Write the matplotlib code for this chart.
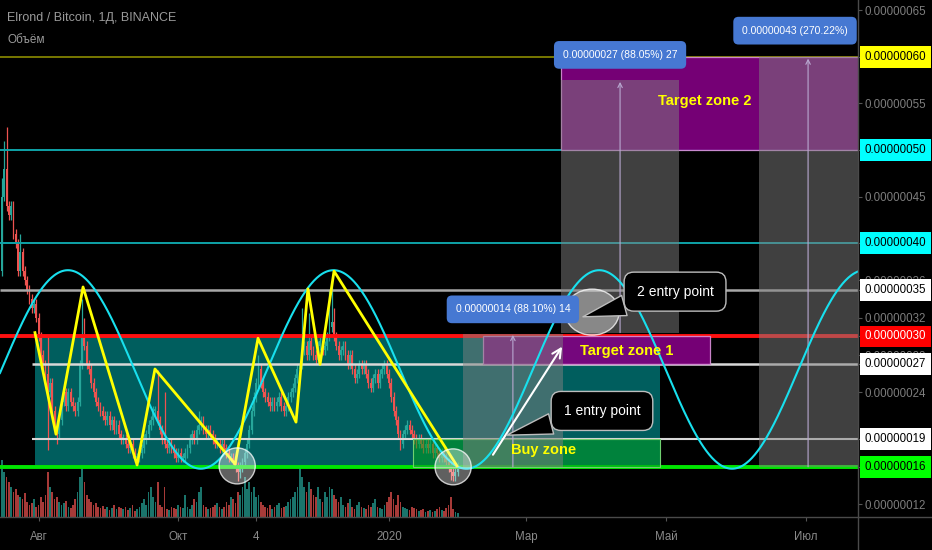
import numpy as np
import matplotlib
matplotlib.use('Agg')
import matplotlib.pyplot as plt
from matplotlib.patches import Rectangle, Ellipse
from matplotlib.ticker import FixedLocator, FuncFormatter
import matplotlib.transforms as mtrans

plt.rcParams['font.family'] = ['Liberation Sans', 'DejaVu Sans']

# days are counted from 1 Aug 2019, first candle = 16 Jul 2019
first_day = -16
first_open = 37
# daily closes, in satoshi (1e-8 BTC)
closes = [45, 48, 44, 43, 44, 41, 40, 37, 39, 37, 36, 35, 34, 33, 33.5, 32, 30,
          28, 27, 26, 24, 25, 22, 20, 19.5, 21, 23, 24, 22.5, 24, 23, 22.5, 22, 23, 27, 30,
          29, 27, 26.5, 25, 24, 23, 22.5, 22, 21.5, 21, 21.5, 20.5, 21, 20, 20.5, 19.5, 19,
          19, 18.5, 18, 18.5, 17.5, 17, 17,
          17.5, 18, 19, 19.5, 20.5, 21, 22, 22, 21, 20,
          19, 18.5, 18, 18.5, 18, 17.5, 17, 17.5, 17, 17,
          17.5, 18, 19, 19.5, 19, 20, 20.5, 21, 20, 19.5,
          20, 19.5, 19, 18.5, 18.5, 18, 18.5, 18, 17.5, 17,
          17, 16.5, 16, 15.5, 16, 16.5, 17.5, 18.5, 20, 22,
          23.5, 25, 26.5, 25, 24, 23.5, 23, 22.5, 23, 22.5,
          23, 23.5, 22.5, 22, 22.5, 23.5, 24, 24.5, 25.5, 26.5,
          27, 28.5, 29, 28, 29.5, 28.5, 28, 27.5, 29, 29.5, 28.5, 29, 30, 31, 31.5, 30, 29, 28,
          28.5, 29, 28, 27, 28, 26.5, 25.5, 26, 27, 26.5, 27, 26, 25, 24.5, 25.5, 26, 25, 26, 26.5, 27,
          26, 25, 23.5, 22, 21, 19.5, 18.5, 19.5, 20, 20.5, 20, 19.5, 19,
          18.5, 19, 18.5, 18, 18.5, 18, 18.5, 17.5, 18, 17.5, 17, 17.5, 17, 16.5, 16, 15.5, 15, 15.5, 16]
wick_hi = {0: 47, 1: 51, 2: 52.5, 8: 41, 20: 30, 35: 34, 36: 32, 68: 26.4, 71: 24,
           86: 22, 112: 28, 131: 33, 134: 32.5, 143: 35, 144: 36, 145: 33}
wick_lo = {20: 17.8, 24: 18.5, 103: 14.5, 104: 14.8, 174: 17.8, 196: 14.6, 197: 14.5}
volumes = [57, 45, 40, 35, 30, 25, 28, 22, 20, 18, 24, 15, 12, 14, 18, 10, 12,
           20, 15, 22, 45, 30, 25, 18, 20, 15, 12, 14, 16, 10, 9, 12, 18, 25, 40, 50, 35,
           22, 18, 15, 12, 14, 10, 9, 11, 8, 10, 7, 9, 12, 8, 10, 9,
           8, 10, 7, 9, 12, 6, 8, 10, 14, 18, 12, 25, 30, 20, 15, 35, 12, 10, 30, 8,
           7, 10, 9, 8, 12, 10, 9, 22, 10, 8, 12, 18, 15, 25, 30, 12, 10, 8, 9, 10,
           12, 14, 10, 8, 10, 15, 12,
           20, 18, 14, 25, 22, 30, 40, 28, 35, 25, 30, 20, 22, 15, 12, 10, 9, 12, 8, 10,
           12, 14, 9, 10, 11, 15, 18, 20, 25, 30,
           55, 40, 30, 25, 35, 28, 22, 20, 30, 18, 15, 25, 20, 30, 28, 22, 18, 15, 20, 12,
           10, 14, 18, 10, 8, 12, 15, 10, 9, 8, 12, 10, 14, 18, 10, 9, 8, 12,
           15, 20, 25, 18, 12, 22, 15, 10, 9, 8, 7, 10, 9, 8, 6, 7, 8, 5, 6, 7,
           5, 6, 8, 10, 7, 6, 9, 12, 20, 8, 5, 4]

tick_days = [0, 61, 95, 153, 213, 274, 335]
tick_labels = ['Авг', 'Окт', '4', '2020', 'Мар', 'Май', 'Июл']
price_ticks = [12, 24, 28, 32, 36, 45, 55, 65]

levels = [60, 50, 40, 35, 30, 27, 19, 16]
level_line = ['#8c8c00', '#0fa3a8', '#0fa3a8', '#a8a8a8', '#ff1010', '#d8d8d8', '#d8d8d8', '#00e600']
level_box = ['#ffff00', '#00ffff', '#00ffff', '#ffffff', '#ff0000', '#ffffff', '#ffffff', '#00ff00']
level_txt = ['black', 'black', 'black', 'black', 'white', 'black', 'black', 'black']
level_lw = [1.2, 1.4, 1.4, 1.8, 2.8, 1.8, 1.5, 2.8]
level_start = [-17, -17, -17, -17, -17, -3, -3, -17]

zig_days = [-1.6, 7.6, 19.4, 43.0, 50.8, 85.8, 95.8, 112.4, 117.6, 122.9, 129.0, 182.7]
zig_prices = [30.4, 19.5, 35.3, 16.2, 26.5, 16.3, 29.8, 20.8, 35.1, 27.0, 37.0, 16.1]

# sine tool
sine_peak_day = 12.8
sine_half = 58.0
sine_top = 37.1
sine_bottom = 15.8

# circles (cx, cy, rx, ry)
circles = [(86.7, 16.1, 7.9, 1.93), (181.0, 16.0, 7.9, 1.93), (241.7, 32.6, 11.8, 2.47)]

XMIN, XMAX = -16.86, 357.8
YMIN, YMAX = 10.62, 66.09

fig = plt.figure(figsize=(9.32, 5.5), dpi=100, facecolor='black')
pos = [0, 33 / 550, 858 / 932, 517 / 550]

n = min(len(closes), len(volumes))
days = np.arange(first_day, first_day + n)
opens = [first_open] + closes[:n - 1]
cl = closes[:n]
up = [c >= o for o, c in zip(opens, cl)]
cols = ['#26a69a' if u else '#ef5350' for u in up]

# volume pane
axv = fig.add_axes(pos)
axv.set_axis_off()
axv.set_xlim(XMIN, XMAX)
axv.set_ylim(0, 517)
axv.bar(days, volumes[:n], width=0.75, color=cols, alpha=0.7)

ax = fig.add_axes(pos)
ax.set_facecolor('none')
ax.set_xlim(XMIN, XMAX)
ax.set_ylim(YMIN, YMAX)
for s in ax.spines.values():
    s.set_visible(False)

# long position zone
ax.add_patch(Rectangle((-1.6, 16), 271.4 + 1.6, 14, fc='#005e5e', ec='none', zorder=1))

# candles
highs = [wick_hi.get(i, max(o, c) + 0.5) for i, (o, c) in enumerate(zip(opens, cl))]
lows = [wick_lo.get(i, min(o, c) - 0.5) for i, (o, c) in enumerate(zip(opens, cl))]
ax.vlines(days, lows, highs, colors=cols, lw=0.9, zorder=2)
bot = [min(o, c) for o, c in zip(opens, cl)]
hgt = [max(abs(c - o), 0.2) for o, c in zip(opens, cl)]
ax.bar(days, hgt, bottom=bot, width=0.8, color=cols, zorder=2)

# horizontal levels
for v, c, lw, x0 in zip(levels, level_line, level_lw, level_start):
    ax.plot([x0, XMAX], [v, v], color=c, lw=lw, zorder=3, solid_capstyle='butt')

# zones
ax.add_patch(Rectangle((163.5, 16), 271.4 - 163.5, 3, fc='#00a020', alpha=0.55, ec='none', zorder=4))
ax.add_patch(Rectangle((163.5, 16), 271.4 - 163.5, 3, fc='none', ec='#70d070', lw=0.8, zorder=4))
ax.add_patch(Rectangle((194.1, 27), 293.2 - 194.1, 3, fc='#800080', alpha=0.92, ec='#d58fd5', lw=0.9, zorder=4))
ax.add_patch(Rectangle((228.1, 50), 360 - 228.1, 10, fc='#800080', alpha=0.92, ec='#d58fd5', lw=0.9, zorder=4))

# measure tools
ax.add_patch(Rectangle((185.3, 16), 229.0 - 185.3, 14.3, fc='#808080', alpha=0.5, ec='none', zorder=5))
ax.add_patch(Rectangle((228.1, 30.4), 279.6 - 228.1, 27.1, fc='#808080', alpha=0.5, ec='none', zorder=5))
ax.add_patch(Rectangle((314.6, 16), 360 - 314.6, 44, fc='#808080', alpha=0.5, ec='none', zorder=5))
for xm, y0, y1 in [(207.1, 16.0, 30.15), (253.9, 30.4, 57.3), (336.0, 16.0, 59.8)]:
    ax.annotate('', xy=(xm, y1), xytext=(xm, y0),
                arrowprops=dict(arrowstyle='->', color='#b8a8d0', lw=0.8, mutation_scale=8,
                                shrinkA=0, shrinkB=0), zorder=6)
mbox = dict(boxstyle='round,pad=0.85,rounding_size=0.5', fc='#4678d2', ec='none')
ax.text(207.1, 32.9, '0.00000014 (88.10%) 14', ha='center', va='center', color='white',
        fontsize=7.5, bbox=mbox, zorder=8)
ax.text(253.9, 60.2, '0.00000027 (88.05%) 27', ha='center', va='center', color='white',
        fontsize=7.5, bbox=mbox, zorder=8)
ax.text(330.3, 62.8, '0.00000043 (270.22%)', ha='center', va='center', color='white',
        fontsize=7.5, bbox=mbox, zorder=8)

# sine line and zigzag
xs = np.linspace(XMIN, XMAX, 900)
mid = (sine_top + sine_bottom) / 2
amp = (sine_top - sine_bottom) / 2
ax.plot(xs, mid + amp * np.cos(np.pi * (xs - sine_peak_day) / sine_half), color='#18e0ee', lw=1.5, zorder=6)
ax.plot(zig_days, zig_prices, color='#ffff00', lw=2, zorder=6)

for cx, cy, rx, ry in circles:
    ax.add_patch(Ellipse((cx, cy), 2 * rx, 2 * ry, fc=(1, 1, 1, 0.38), ec=(1, 1, 1, 0.75), lw=1, zorder=7))

# white arrow
ax.annotate('', xy=(228.6, 28.9), xytext=(198.4, 17.3),
            arrowprops=dict(arrowstyle='->', color='white', lw=1.5, mutation_scale=16,
                            shrinkA=0, shrinkB=0), zorder=7)

# callouts
cbox = dict(boxstyle='round,pad=0.9,rounding_size=0.7', fc='black', ec='#bdbdbd', lw=1)
for txt, tip, cen in [('2 entry point', (237.7, 32.1), (277.9, 34.8)),
                      ('1 entry point', (204.5, 19.4), (246.0, 22.0))]:
    ax.annotate(txt, xy=tip, xytext=cen, ha='center', va='center', color='white', fontsize=10,
                bbox=cbox, zorder=9,
                arrowprops=dict(arrowstyle='wedge,tail_width=1.5', fc='black', ec='#bdbdbd', lw=1,
                                shrinkA=0, shrinkB=0))

# zone labels
for txt, x, y in [('Target zone 1', 257.0, 28.4), ('Target zone 2', 290.8, 55.2), ('Buy zone', 220.5, 17.8)]:
    ax.text(x, y, txt, ha='center', va='center', color='#ffff00', fontsize=10.5,
            fontweight='bold', zorder=9)

# axes ticks
ax.yaxis.tick_right()
ax.yaxis.set_major_locator(FixedLocator(price_ticks + levels))
ax.yaxis.set_major_formatter(FuncFormatter(lambda v, p: '' if v in levels else f'{v * 1e-8:.8f}'))
ax.tick_params(axis='y', colors='#555555', labelcolor='#7d7d7d', labelsize=8.3, length=3, pad=2)
ax.xaxis.set_major_locator(FixedLocator(tick_days))
ax.set_xticklabels(tick_labels)
ax.tick_params(axis='x', colors='#555555', labelcolor='#8a8a8a', labelsize=8.3, length=3, pad=7)

tr = mtrans.blended_transform_factory(ax.transAxes, ax.transData)
for v, bc, tc in zip(levels, level_box, level_txt):
    ax.text(1.0 + 7 / 858, v, f'{v * 1e-8:.8f}', transform=tr, ha='left', va='center',
            color=tc, fontsize=8.3, clip_on=False, zorder=10,
            bbox=dict(boxstyle='square,pad=0.42', fc=bc, ec='none'))

# pane borders
fig.add_artist(plt.Line2D([0, 1], [33 / 550, 33 / 550], color='#4a4a4a', lw=1))
fig.add_artist(plt.Line2D([858 / 932, 858 / 932], [0, 1], color='#4a4a4a', lw=1))

fig.text(7 / 932, 1 - 18 / 550, 'Elrond / Bitcoin, 1Д, BINANCE', color='#9a9a9a', fontsize=9, va='center')
fig.text(7 / 932, 1 - 40 / 550, 'Объём', color='#9a9a9a', fontsize=8.5, va='center')

fig.savefig('out.png', dpi=100, facecolor='black')
